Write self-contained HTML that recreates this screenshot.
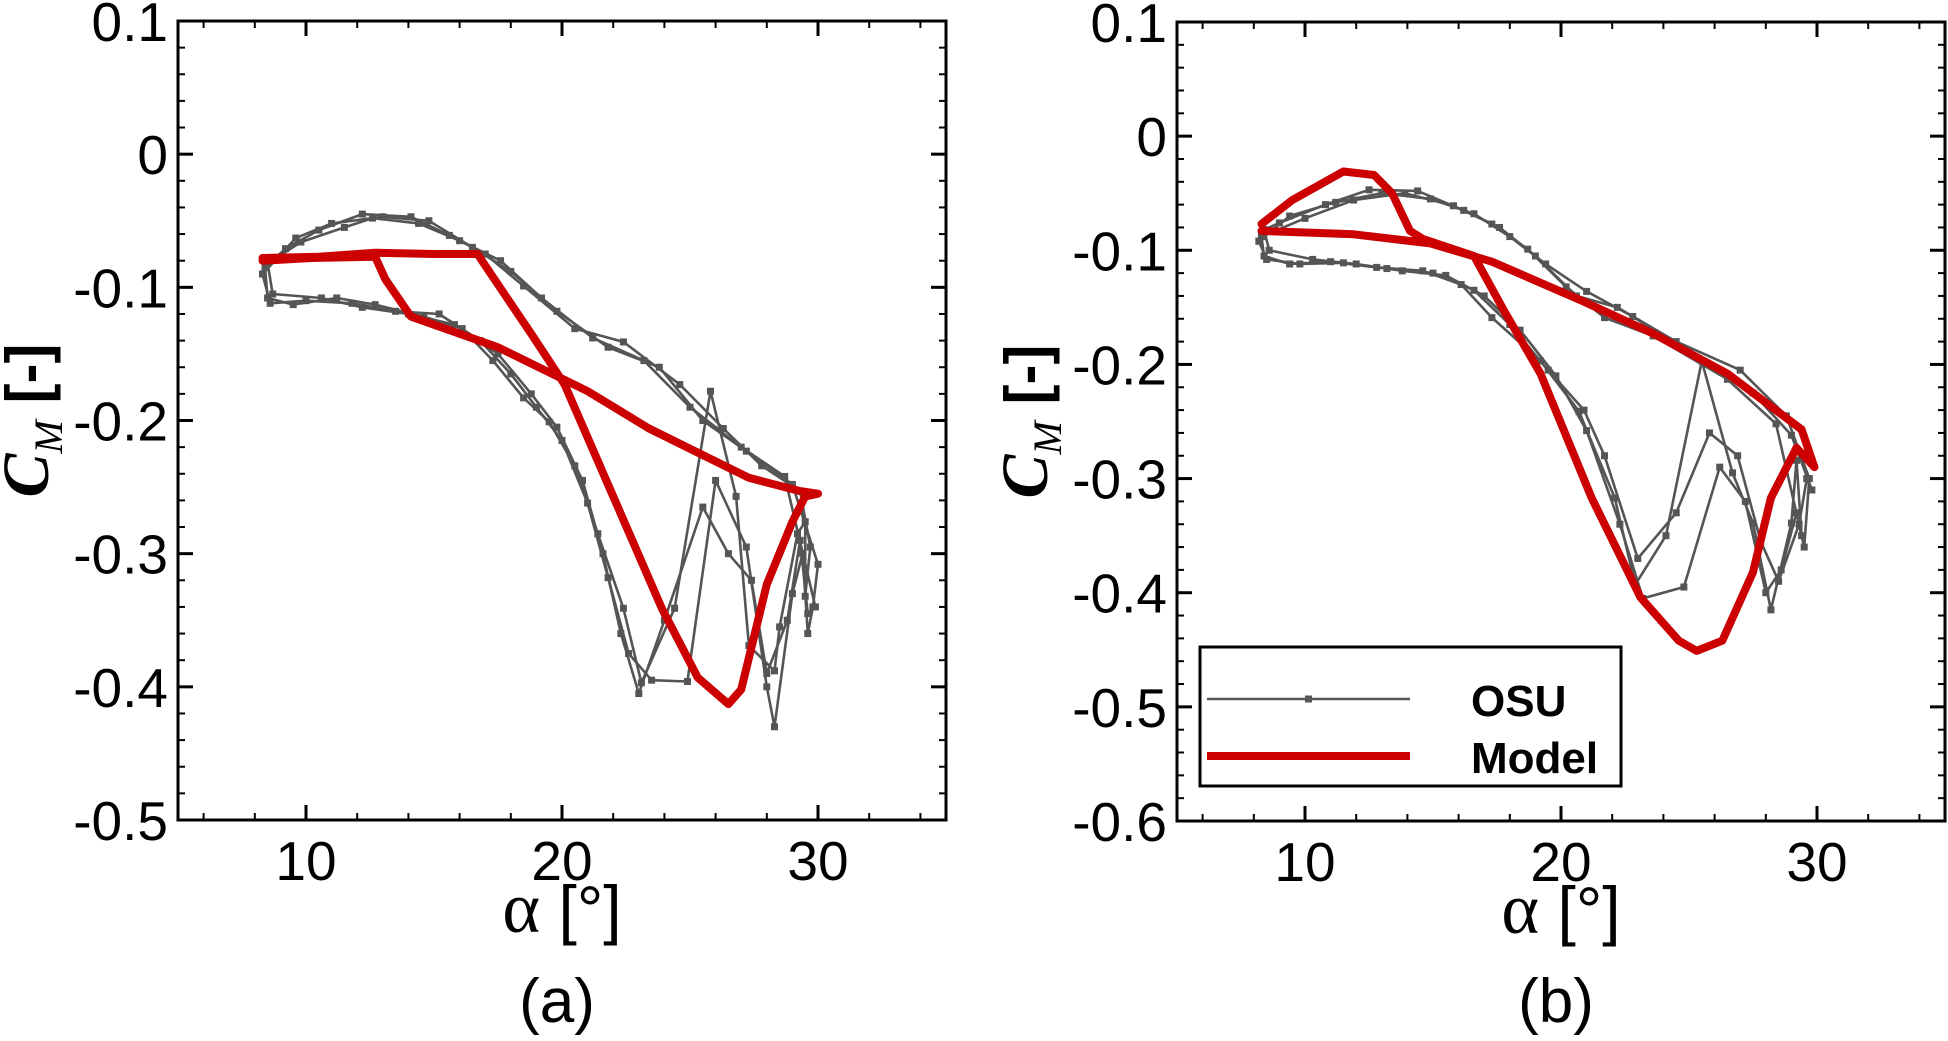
<!DOCTYPE html>
<html><head><meta charset="utf-8"><style>
html,body{margin:0;padding:0;background:#fff;}
svg{display:block;font-family:"Liberation Sans",sans-serif;}
</style></head><body>
<svg id="fig" width="1948" height="1041" viewBox="0 0 1948 1041"></svg>
<script>
// ---------- data ----------
const xTicks = [10, 20, 30];
const yTicksA = [0.1, 0, -0.1, -0.2, -0.3, -0.4, -0.5];
const yTicksB = [0.1, 0, -0.1, -0.2, -0.3, -0.4, -0.5, -0.6];
const yTickLabelsA = ["0.1", "0", "-0.1", "-0.2", "-0.3", "-0.4", "-0.5"];
const yTickLabelsB = ["0.1", "0", "-0.1", "-0.2", "-0.3", "-0.4", "-0.5", "-0.6"];

const modelA_alpha = [8.3, 10.5, 12.7, 15.0, 16.7, 17.4, 18.8, 20.1, 22.0, 23.9, 25.3, 26.5, 27.0, 28.0, 29.0, 29.5, 30.0, 29.3, 27.3, 23.4, 21.0, 17.5, 14.1, 13.1, 12.7, 10.2, 8.3];
const modelA_cm    = [-0.078, -0.077, -0.074, -0.075, -0.075, -0.095, -0.135, -0.173, -0.257, -0.341, -0.393, -0.413, -0.402, -0.323, -0.276, -0.257, -0.255, -0.253, -0.243, -0.206, -0.178, -0.145, -0.122, -0.094, -0.077, -0.078, -0.080];

const modelB_alpha = [8.3, 9.5, 11.5, 12.7, 13.4, 14.1, 14.6, 16.6, 17.8, 19.2, 21.2, 23.1, 24.6, 25.3, 26.3, 27.5, 28.2, 29.2, 29.9, 29.4, 26.5, 23.6, 20.7, 17.3, 14.9, 11.9, 8.3];
const modelB_cm    = [-0.077, -0.056, -0.031, -0.034, -0.050, -0.083, -0.090, -0.105, -0.154, -0.208, -0.317, -0.404, -0.442, -0.451, -0.442, -0.382, -0.317, -0.273, -0.290, -0.257, -0.208, -0.173, -0.143, -0.110, -0.094, -0.086, -0.083];

const osuA1_alpha = [8.4, 8.5, 9.5, 11.2, 12.7, 14.6, 16.1, 17.3, 18.5, 19.5, 20.5, 21.4, 22.4, 23.1, 24.4, 25.8, 26.8, 27.3, 28.3, 28.5, 29.2, 29.5, 29.5, 29.7, 29.3, 27.8, 26.3, 24.6, 22.4, 20.5, 18.5, 17.0, 15.6, 14.1, 12.2, 10.5, 9.2, 8.4];
const osuA1_cm    = [-0.085, -0.108, -0.113, -0.108, -0.113, -0.122, -0.131, -0.155, -0.183, -0.201, -0.234, -0.285, -0.341, -0.397, -0.341, -0.178, -0.257, -0.369, -0.388, -0.355, -0.285, -0.276, -0.332, -0.295, -0.253, -0.234, -0.206, -0.173, -0.141, -0.131, -0.099, -0.075, -0.061, -0.047, -0.045, -0.057, -0.071, -0.085];
const osuA2_alpha = [8.3, 8.6, 10.0, 11.8, 13.5, 15.2, 16.8, 18.0, 19.0, 20.0, 21.0, 21.8, 22.6, 23.5, 24.9, 26.0, 27.2, 28.0, 28.3, 29.0, 29.4, 29.6, 29.8, 30.0, 29.0, 27.2, 25.5, 23.8, 21.8, 19.8, 18.0, 16.5, 14.8, 13.0, 11.0, 9.6, 8.3];
const osuA2_cm    = [-0.090, -0.112, -0.110, -0.112, -0.118, -0.120, -0.140, -0.165, -0.190, -0.215, -0.262, -0.318, -0.375, -0.395, -0.396, -0.245, -0.295, -0.400, -0.430, -0.330, -0.300, -0.360, -0.340, -0.308, -0.248, -0.223, -0.200, -0.160, -0.145, -0.118, -0.088, -0.070, -0.050, -0.047, -0.052, -0.063, -0.090];
const osuA3_alpha = [8.5, 8.7, 10.6, 12.2, 14.0, 15.8, 17.5, 18.8, 19.8, 20.8, 21.6, 22.3, 23.0, 24.0, 25.5, 26.5, 27.4, 28.0, 28.8, 29.3, 29.6, 29.9, 28.7, 27.0, 25.0, 23.2, 21.2, 19.2, 17.6, 16.0, 14.4, 12.6, 11.5, 9.8, 8.5];
const osuA3_cm    = [-0.082, -0.105, -0.108, -0.115, -0.120, -0.128, -0.150, -0.180, -0.205, -0.245, -0.300, -0.360, -0.405, -0.350, -0.265, -0.300, -0.320, -0.390, -0.350, -0.290, -0.345, -0.340, -0.242, -0.220, -0.190, -0.155, -0.138, -0.108, -0.080, -0.065, -0.052, -0.048, -0.055, -0.066, -0.082];

const osuB1_alpha = [8.3, 8.4, 9.4, 11.0, 12.8, 14.6, 16.1, 17.3, 19.2, 20.7, 22.1, 22.9, 24.1, 25.5, 26.7, 27.5, 28.2, 29.0, 29.2, 29.4, 28.4, 26.5, 23.6, 21.7, 20.2, 18.7, 17.3, 15.8, 13.9, 11.9, 10.0, 8.3];
const osuB1_cm    = [-0.088, -0.105, -0.112, -0.110, -0.115, -0.118, -0.130, -0.159, -0.197, -0.241, -0.317, -0.393, -0.350, -0.197, -0.295, -0.339, -0.415, -0.339, -0.284, -0.350, -0.252, -0.213, -0.175, -0.159, -0.132, -0.099, -0.077, -0.061, -0.050, -0.056, -0.072, -0.088];
const osuB2_alpha = [8.4, 8.6, 10.3, 12.0, 13.8, 15.5, 17.0, 18.4, 19.8, 21.0, 22.3, 23.2, 24.8, 26.2, 27.2, 28.0, 28.6, 29.2, 29.5, 29.7, 28.8, 27.0, 24.5, 22.2, 20.6, 19.0, 17.6, 16.2, 14.4, 12.5, 10.8, 9.0, 8.4];
const osuB2_cm    = [-0.082, -0.100, -0.108, -0.112, -0.118, -0.122, -0.140, -0.170, -0.210, -0.258, -0.340, -0.405, -0.395, -0.290, -0.320, -0.400, -0.380, -0.330, -0.360, -0.300, -0.245, -0.205, -0.180, -0.150, -0.140, -0.105, -0.080, -0.065, -0.048, -0.047, -0.060, -0.076, -0.082];
const osuB3_alpha = [8.2, 8.5, 9.8, 11.5, 13.2, 15.0, 16.6, 18.0, 19.5, 20.9, 21.7, 23.0, 24.5, 25.8, 26.9, 27.8, 28.5, 29.3, 29.6, 29.8, 29.0, 27.5, 25.0, 22.8, 21.0, 19.4, 18.0, 16.6, 14.9, 13.0, 11.2, 9.4, 8.2];
const osuB3_cm    = [-0.092, -0.108, -0.112, -0.111, -0.116, -0.120, -0.135, -0.165, -0.205, -0.240, -0.280, -0.370, -0.330, -0.260, -0.280, -0.355, -0.390, -0.340, -0.300, -0.310, -0.262, -0.225, -0.190, -0.158, -0.136, -0.112, -0.088, -0.068, -0.055, -0.050, -0.058, -0.070, -0.092];

// ---------- drawing ----------
const NS = "http://www.w3.org/2000/svg";
const svg = document.getElementById("fig");
function mk(tag, attrs, parent) {
  const e = document.createElementNS(NS, tag);
  for (const k in attrs) e.setAttribute(k, attrs[k]);
  (parent || svg).appendChild(e);
  return e;
}

function panel(cfg) {
  const g = mk("g", {});
  
  
  const L = cfg.left, R = cfg.right, T = cfg.top, B = cfg.bottom;
  const sx = v => L + (v - 5) / 30 * (R - L);
  const sy = v => T + (cfg.ymax - v) / (cfg.ymax - cfg.ymin) * (B - T);

  for (let v = 6; v <= 34; v += 2) {
    if (v % 10 === 0) continue;
    const t1 = mk("line", {x1: sx(v), x2: sx(v), y1: B, y2: B - 7, stroke: "#000", "stroke-width": 2}, g);
    
    
    const t2 = mk("line", {x1: sx(v), x2: sx(v), y1: T, y2: T + 7, stroke: "#000", "stroke-width": 2}, g);
    
    
  }
  const nMinor = Math.round((cfg.ymax - cfg.ymin) / 0.02);
  for (let i = 1; i < nMinor; i++) {
    if (i % 5 === 0) continue;
    const y = sy(cfg.ymax - i * 0.02);
    const t1 = mk("line", {x1: L, x2: L + 7, y1: y, y2: y, stroke: "#000", "stroke-width": 2}, g);
    
    
    const t2 = mk("line", {x1: R, x2: R - 7, y1: y, y2: y, stroke: "#000", "stroke-width": 2}, g);
    
    
  }
  xTicks.forEach(v => {
    const t1 = mk("line", {x1: sx(v), x2: sx(v), y1: B, y2: B - 15, stroke: "#000", "stroke-width": 3}, g);
    
    
    const t2 = mk("line", {x1: sx(v), x2: sx(v), y1: T, y2: T + 15, stroke: "#000", "stroke-width": 3}, g);
    
    
    const tx = mk("text", {x: sx(v), y: B + 60, "font-size": 55, "text-anchor": "middle", fill: "#000"}, g);
    
    
    tx.textContent = String(v);
  });
  cfg.yticks.forEach((v, i) => {
    const y = sy(v);
    const t1 = mk("line", {x1: L, x2: L + 15, y1: y, y2: y, stroke: "#000", "stroke-width": 3}, g);
    
    
    const t2 = mk("line", {x1: R, x2: R - 15, y1: y, y2: y, stroke: "#000", "stroke-width": 3}, g);
    
    
    const tx = mk("text", {x: L - 10, y: y + 20, "font-size": 55, "text-anchor": "end", fill: "#000"}, g);
    
    
    tx.textContent = cfg.ylabels[i];
  });

  cfg.osu.forEach(([xs, ys]) => {
    const pts = xs.map((a, i) => sx(a).toFixed(1) + "," + sy(ys[i]).toFixed(1)).join(" ");
    const pl = mk("polyline", {points: pts, fill: "none", stroke: "#555", "stroke-width": 2.6, "stroke-linejoin": "round"}, g);
    
    
    xs.forEach((a, i) => {
      const r = mk("rect", {x: sx(a) - 3.5, y: sy(ys[i]) - 3.5, width: 7, height: 7, fill: "#555"}, g);
      
      
    });
  });
  const mpts = cfg.mx.map((a, i) => sx(a).toFixed(1) + "," + sy(cfg.my[i]).toFixed(1)).join(" ");
  const ml = mk("polyline", {points: mpts, fill: "none", stroke: "#cc0000", "stroke-width": 8, "stroke-linejoin": "round", "stroke-linecap": "round"}, g);
  
  

  const fr = mk("rect", {x: L, y: T, width: R - L, height: B - T, fill: "none", stroke: "#000", "stroke-width": 3}, g);
  
  

  const xt = mk("text", {x: (L + R) / 2, y: B + 112, "font-size": 66, "text-anchor": "middle", fill: "#000"}, g);
  
  
  xt.innerHTML = '<tspan font-family="Liberation Serif" font-size="72">α</tspan> [°]';
  const cx = L - 130, cy = (T + B) / 2;
  const yt = mk("text", {x: cx, y: cy, "font-size": 60, "font-weight": "bold", "text-anchor": "middle", fill: "#000", transform: `rotate(-90 ${cx} ${cy})`}, g);
  
  
  yt.innerHTML = '<tspan font-family="Liberation Serif" font-style="italic" font-size="66">C</tspan><tspan font-family="Liberation Serif" font-style="italic" font-weight="normal" font-size="40" dy="14">M</tspan><tspan dy="-14"> [-]</tspan>';
  const cap = mk("text", {x: (L + R) / 2 - 5, y: 1022, "font-size": 62, "text-anchor": "middle", fill: "#000"}, g);
  
  
  cap.textContent = cfg.caption;
}

panel({name: "panel-a", left: 178, right: 946, top: 21, bottom: 820, ymax: 0.1, ymin: -0.5,
  yticks: yTicksA, ylabels: yTickLabelsA, caption: "(a)", mx: modelA_alpha, my: modelA_cm,
  osu: [[osuA1_alpha, osuA1_cm], [osuA2_alpha, osuA2_cm], [osuA3_alpha, osuA3_cm]]});
panel({name: "panel-b", left: 1177, right: 1945, top: 22, bottom: 821, ymax: 0.1, ymin: -0.6,
  yticks: yTicksB, ylabels: yTickLabelsB, caption: "(b)", mx: modelB_alpha, my: modelB_cm,
  osu: [[osuB1_alpha, osuB1_cm], [osuB2_alpha, osuB2_cm], [osuB3_alpha, osuB3_cm]]});

const lg = mk("g", {});


const lb = mk("rect", {x: 1200, y: 647, width: 421, height: 139, fill: "#fff", stroke: "#000", "stroke-width": 3}, lg);


const l1 = mk("line", {x1: 1207, x2: 1410, y1: 699, y2: 699, stroke: "#555", "stroke-width": 2.6}, lg);


const l1m = mk("rect", {x: 1305, y: 695.5, width: 7, height: 7, fill: "#555"}, lg);


const t1 = mk("text", {x: 1471, y: 716, "font-size": 44, "font-weight": "bold", fill: "#000"}, lg);


t1.textContent = "OSU";
const l2 = mk("line", {x1: 1207, x2: 1410, y1: 756, y2: 756, stroke: "#cc0000", "stroke-width": 8}, lg);


const t2 = mk("text", {x: 1471, y: 773, "font-size": 44, "font-weight": "bold", fill: "#000"}, lg);


t2.textContent = "Model";
</script>
</body></html>
